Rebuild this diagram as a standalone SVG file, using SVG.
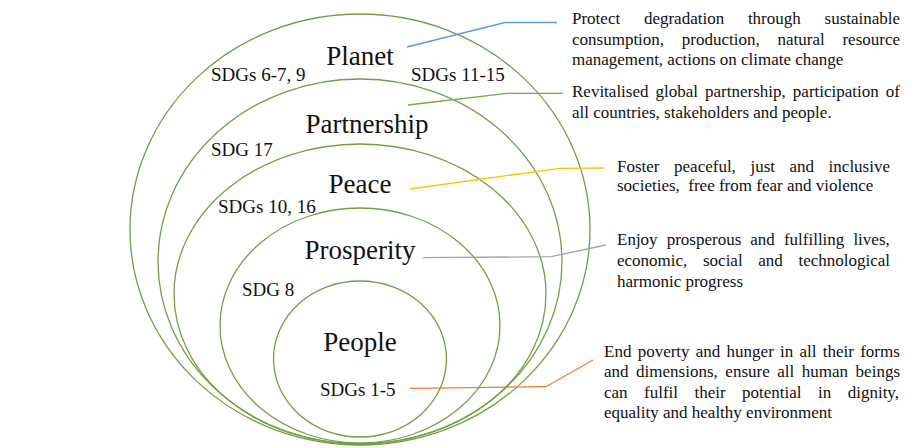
<svg xmlns="http://www.w3.org/2000/svg" width="914" height="448" viewBox="0 0 914 448">
<defs>
<style>
.ring{fill:none;stroke:#70A043;stroke-width:1.3}
.con{fill:none;stroke-width:1.3}
</style>
</defs>
<rect width="914" height="448" fill="#fff"/>
<g id="planet">
<ellipse class="ring" cx="360" cy="229.5" rx="230" ry="215.5"/>
<text font-family="Liberation Serif" font-size="27" fill="#111" x="360" y="65" text-anchor="middle">Planet</text>
<text font-family="Liberation Serif" font-size="19" fill="#111" x="211" y="81">SDGs 6-7, 9</text>
<text font-family="Liberation Serif" font-size="19" fill="#111" x="411" y="81">SDGs 11-15</text>
</g>
<g id="partnership">
<ellipse class="ring" cx="360" cy="261.5" rx="202" ry="182.5"/>
<text font-family="Liberation Serif" font-size="27" fill="#111" x="367" y="133" text-anchor="middle">Partnership</text>
<text font-family="Liberation Serif" font-size="19" fill="#111" x="211" y="156">SDG 17</text>
</g>
<g id="peace">
<ellipse class="ring" cx="360" cy="294" rx="186" ry="150"/>
<text font-family="Liberation Serif" font-size="27" fill="#111" x="360" y="193" text-anchor="middle">Peace</text>
<text font-family="Liberation Serif" font-size="19" fill="#111" x="218" y="213">SDGs 10, 16</text>
</g>
<g id="prosperity">
<ellipse class="ring" cx="360" cy="325.5" rx="140" ry="117.5"/>
<text font-family="Liberation Serif" font-size="27" fill="#111" x="360" y="259" text-anchor="middle">Prosperity</text>
<text font-family="Liberation Serif" font-size="19" fill="#111" x="242" y="296">SDG 8</text>
</g>
<g id="people">
<ellipse class="ring" cx="360" cy="359" rx="86.5" ry="78"/>
<text font-family="Liberation Serif" font-size="27" fill="#111" x="360" y="351" text-anchor="middle">People</text>
<text font-family="Liberation Serif" font-size="19" fill="#111" x="320" y="396">SDGs 1-5</text>
</g>
<g id="connectors">
<polyline class="con" stroke="#5B9BD5" points="407,47 505,22.5 557,22.5"/>
<polyline class="con" stroke="#70AD47" points="408,105 507,93.3 563,93.3"/>
<polyline class="con" stroke="#FFC000" points="410,189 560,168.3 604,168"/>
<polyline class="con" stroke="#A5A5A5" points="423,257.7 551,256.7 606,245"/>
<polyline class="con" stroke="#ED7D31" points="410,388.3 546,386.7 593,360"/>
</g>
<g id="desc-planet">
<text font-family="Liberation Serif" font-size="17" fill="#111" x="572" y="23.5" word-spacing="19.5">Protect degradation through sustainable</text>
<text font-family="Liberation Serif" font-size="17" fill="#111" x="572" y="44.5" word-spacing="13.5">consumption, production, natural resource</text>
<text font-family="Liberation Serif" font-size="17" fill="#111" x="572" y="65">management, actions on climate change</text>
</g>
<g id="desc-partnership">
<text font-family="Liberation Serif" font-size="17" fill="#111" x="572" y="96.7" word-spacing="2.8">Revitalised global partnership, participation of</text>
<text font-family="Liberation Serif" font-size="17" fill="#111" x="572" y="117.5">all countries, stakeholders and people.</text>
</g>
<g id="desc-peace">
<text font-family="Liberation Serif" font-size="17" fill="#111" x="617" y="171.7" word-spacing="10.3">Foster peaceful, just and inclusive</text>
<text font-family="Liberation Serif" font-size="17" fill="#111" x="617" y="191" xml:space="preserve">societies,  free from fear and violence</text>
</g>
<g id="desc-prosperity">
<text font-family="Liberation Serif" font-size="17" fill="#111" x="617" y="245" word-spacing="4.8">Enjoy prosperous and fulfilling lives,</text>
<text font-family="Liberation Serif" font-size="17" fill="#111" x="617" y="265.7" word-spacing="11.4">economic, social and technological</text>
<text font-family="Liberation Serif" font-size="17" fill="#111" x="617" y="286.7">harmonic progress</text>
</g>
<g id="desc-people">
<text font-family="Liberation Serif" font-size="17" fill="#111" x="604" y="356.7" word-spacing="2">End poverty and hunger in all their forms</text>
<text font-family="Liberation Serif" font-size="17" fill="#111" x="604" y="377.3" word-spacing="3.3">and dimensions, ensure all human beings</text>
<text font-family="Liberation Serif" font-size="17" fill="#111" x="604" y="398.3" word-spacing="12.2">can fulfil their potential in dignity,</text>
<text font-family="Liberation Serif" font-size="17" fill="#111" x="604" y="418.3">equality and healthy environment</text>
</g>
</svg>
